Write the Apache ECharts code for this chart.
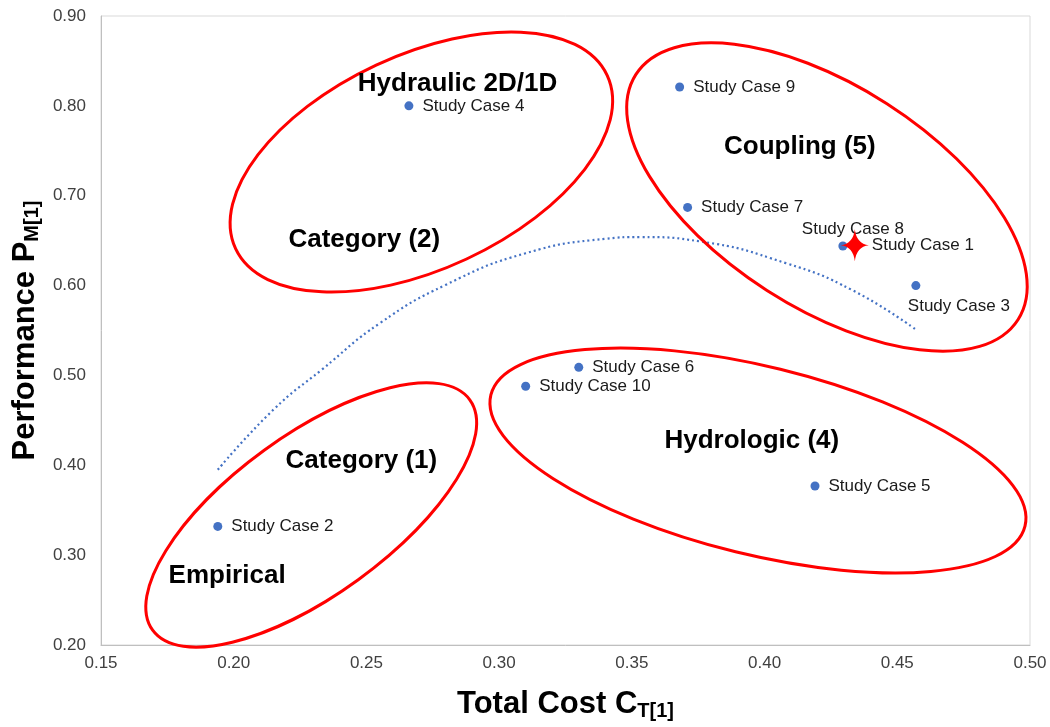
<!DOCTYPE html>
<html>
<head>
<meta charset="utf-8">
<script src="https://cdn.jsdelivr.net/npm/echarts@6/dist/echarts.min.js"></script>
<style>
html,body{margin:0;padding:0;background:#fff;}
#chart{width:1050px;height:727px;}
</style>
</head>
<body>
<div id="chart"></div>
<script>
// ---- data ----
const caseNames = ['Study Case 1','Study Case 2','Study Case 3','Study Case 4','Study Case 5','Study Case 6','Study Case 7','Study Case 8','Study Case 9','Study Case 10'];
const totalCost = [0.434, 0.194, 0.457, 0.266, 0.419, 0.330, 0.371, 0.4295, 0.368, 0.310];
const performance = [0.645, 0.332, 0.600, 0.800, 0.377, 0.509, 0.687, 0.644, 0.821, 0.488];

// trendline
const trendX = [0.194, 0.215, 0.233, 0.255, 0.280, 0.310, 0.340, 0.353, 0.376, 0.408, 0.433, 0.457];
const trendY = [0.395, 0.462, 0.506, 0.558, 0.601, 0.636, 0.652, 0.654, 0.649, 0.625, 0.595, 0.551];

const xTicks = [0.15, 0.20, 0.25, 0.30, 0.35, 0.40, 0.45, 0.50];
const yTicks = [0.20, 0.30, 0.40, 0.50, 0.60, 0.70, 0.80, 0.90];

// group annotations
const groupLabels = ['Hydraulic 2D/1D', 'Category (2)', 'Coupling (5)', 'Category (1)', 'Hydrologic (4)', 'Empirical'];
const groupLabelX = [0.2843, 0.2492, 0.4133, 0.2481, 0.3952, 0.1975];
const groupLabelY = [0.8243, 0.6507, 0.7542, 0.4048, 0.4270, 0.2768];

const ellipseCX = [0.2707, 0.4235, 0.3975, 0.2292];
const ellipseCY = [0.7375, 0.6985, 0.4053, 0.3447];
const ellipseShape = [
  {rx: 205, ry: 107, rot: 25},
  {rx: 227, ry: 111, rot: -32.7},
  {rx: 275, ry: 94, rot: -13.8},
  {rx: 196, ry: 80, rot: 36}
];

// ---- chart ----
const FONT = "'Liberation Sans', Arial, sans-serif";
const chart = echarts.init(document.getElementById('chart'));

const labelCfg = {
  'Study Case 3': {position: 'bottom', distance: 8, offset: [43, 0]},
  'Study Case 8': {position: 'top', distance: 4, offset: [10, 0]}
};

const pointData = caseNames.map((n, i) => {
  const d = {name: n, value: [totalCost[i], performance[i]]};
  if (n === 'Study Case 1') d.label = {show: false};
  else if (labelCfg[n]) d.label = labelCfg[n];
  return d;
});

const option = {
  animation: false,
  backgroundColor: '#ffffff',
  grid: {left: 101, right: 20, top: 16, bottom: 82, show: true, borderColor: '#D9D9D9', borderWidth: 1},
  xAxis: {
    type: 'value', min: xTicks[0], max: xTicks[xTicks.length - 1], interval: 0.05,
    axisLine: {show: true, lineStyle: {color: '#BFBFBF'}},
    axisTick: {show: false},
    splitLine: {show: false},
    axisLabel: {formatter: v => v.toFixed(2), color: '#404040', fontSize: 17, fontFamily: FONT, margin: 10},
    name: '{a|Total Cost C}{b|T[1]}',
    nameLocation: 'middle', nameGap: 42,
    nameTextStyle: {
      rich: {
        a: {fontSize: 31, fontWeight: 'bold', color: '#000', fontFamily: FONT},
        b: {fontSize: 20, fontWeight: 'bold', color: '#000', fontFamily: FONT, padding: [14, 0, 0, 0]}
      }
    }
  },
  yAxis: {
    type: 'value', min: yTicks[0], max: yTicks[yTicks.length - 1], interval: 0.1,
    axisLine: {show: true, lineStyle: {color: '#BFBFBF'}},
    axisTick: {show: false},
    splitLine: {show: false},
    axisLabel: {formatter: v => v.toFixed(2), color: '#404040', fontSize: 17, fontFamily: FONT, margin: 15},
    name: '{a|Performance P}{b|M[1]}',
    nameLocation: 'middle', nameGap: 52,
    nameTextStyle: {
      rich: {
        a: {fontSize: 31, fontWeight: 'bold', color: '#000', fontFamily: FONT},
        b: {fontSize: 20, fontWeight: 'bold', color: '#000', fontFamily: FONT, padding: [14, 0, 0, 0]}
      }
    }
  },
  series: [
    {
      type: 'line',
      data: trendX.map((x, i) => [x, trendY[i]]),
      smooth: true, symbol: 'none',
      lineStyle: {color: '#4472C4', width: 2.2, type: [2, 3]},
      z: 2, silent: true
    },
    {
      type: 'custom',
      data: ellipseCX.map((x, i) => [x, ellipseCY[i]]),
      renderItem: (params, api) => {
        const p = api.coord([api.value(0), api.value(1)]);
        const e = ellipseShape[params.dataIndex];
        return {
          type: 'ellipse', x: p[0], y: p[1], rotation: e.rot * Math.PI / 180,
          shape: {cx: 0, cy: 0, rx: e.rx, ry: e.ry},
          style: {fill: 'none', stroke: '#FF0000', lineWidth: 3}
        };
      },
      clip: false, z: 3, silent: true
    },
    {
      type: 'custom',
      data: groupLabelX.map((x, i) => [x, groupLabelY[i]]),
      renderItem: (params, api) => {
        const p = api.coord([api.value(0), api.value(1)]);
        return {
          type: 'text', x: p[0], y: p[1],
          style: {text: groupLabels[params.dataIndex], fill: '#000', font: "bold 26px " + FONT, align: 'center', verticalAlign: 'middle'}
        };
      },
      clip: false, z: 4, silent: true
    },
    {
      type: 'scatter',
      data: pointData,
      symbol: 'circle', symbolSize: 9,
      itemStyle: {color: '#4472C4', opacity: 1},
      label: {show: true, formatter: '{b}', position: 'right', distance: 9, color: '#1a1a1a', fontSize: 17, fontFamily: FONT},
      z: 5
    },
    {
      type: 'scatter',
      data: [{name: caseNames[0], value: [totalCost[0], performance[0]]}],
      symbol: 'path://M0,-15 Q1.5,-1.5 13,0 Q1.5,1.5 0,15 Q-1.5,1.5 -13,0 Q-1.5,-1.5 0,-15 Z',
      symbolSize: [28, 32],
      itemStyle: {color: '#FF0000', opacity: 1},
      label: {show: true, formatter: '{b}', position: 'right', distance: 3, color: '#1a1a1a', fontSize: 17, fontFamily: FONT},
      z: 6
    }
  ]
};
chart.setOption(option);
</script>
</body>
</html>
